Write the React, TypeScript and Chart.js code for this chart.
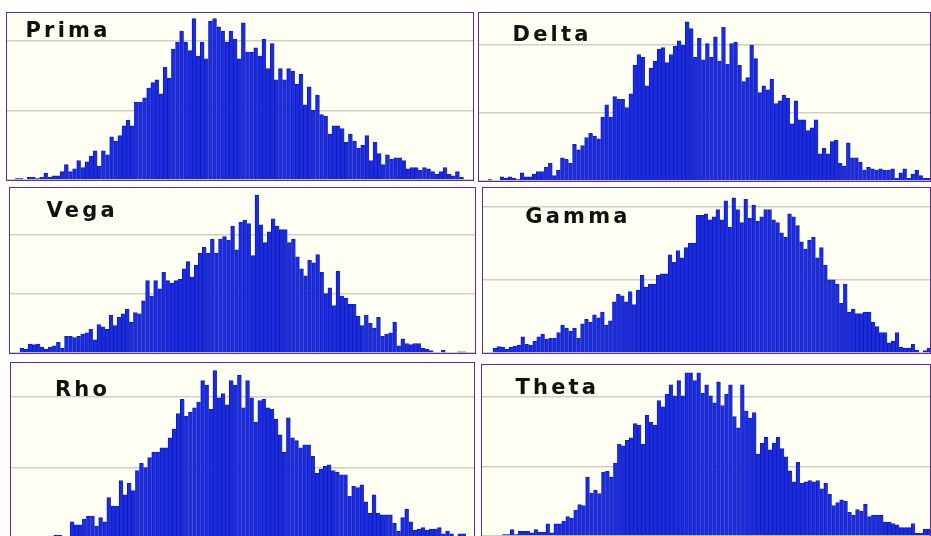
import React, { useEffect, useRef } from "react";
import { Chart, registerables } from "chart.js";

Chart.register(...registerables);

// ---- data (bin counts, left to right) ----
const panelTitles = ["Prima", "Delta", "Vega", "Gamma", "Rho", "Theta"];

const primaCounts = [1, 1, 0.5, 2, 2, 1, 2, 5, 2, 3, 3, 6, 11, 6, 8, 14, 9, 13, 17, 21, 10, 21, 18, 31, 28, 32, 39, 43, 39, 56, 56, 59, 66, 70, 72, 62, 81, 73, 94, 99, 107, 99, 93, 116, 89, 99, 87, 114, 116, 110, 107, 99, 107, 101, 87, 113, 92, 92, 95, 89, 101, 80, 98, 72, 80, 72, 80, 78, 69, 76, 54, 67, 50, 61, 47, 46, 33, 39, 39, 37, 27, 33, 28, 23, 25, 32, 14, 27, 19, 11, 18, 15, 16, 16, 14, 8, 9, 9, 7, 9, 8, 6, 4, 6, 9, 4, 3, 6, 2];

const deltaCounts = [1, 0.5, 0.5, 3, 2, 3, 2, 1, 6, 3, 3, 5, 7, 7, 10, 13, 4, 8, 17, 16, 13, 27, 23, 26, 32, 35, 33, 31, 47, 56, 47, 62, 60, 60, 54, 64, 85, 93, 91, 70, 83, 88, 97, 98, 87, 93, 99, 103, 100, 117, 112, 91, 105, 89, 101, 91, 106, 88, 113, 86, 101, 102, 85, 73, 76, 100, 90, 65, 70, 67, 75, 57, 59, 63, 61, 42, 59, 45, 45, 37, 39, 45, 20, 24, 20, 29, 30, 13, 11, 28, 17, 17, 14, 8, 10, 9, 8, 9, 8, 8, 9, 2, 6, 9, 2, 5, 8, 4, 2, 2];

const vegaCounts = [4, 3.4, 7.6, 7, 7.6, 5, 3.4, 5, 6, 9, 4, 14, 14, 13, 14, 16, 17, 20, 11, 24, 22, 20, 32, 23, 30, 33, 37, 26, 34, 33, 44, 61, 48, 61, 54, 68, 61, 59, 61, 62, 71, 77, 64, 74, 84, 89, 84, 96, 84, 96, 98, 95, 107, 87, 110, 112, 109, 82, 133, 108, 93, 102, 113, 107, 104, 104, 93, 96, 81, 71, 65, 78, 76, 83, 68, 50, 55, 40, 69, 48, 46, 41, 41, 31, 23, 32, 25, 21, 30, 14, 16, 17, 26, 6, 12, 8, 7, 8, 8, 4, 3.4, 2, 0.6, 0.6, 2.5, 0, 0, 0.6, 1, 1];

const gammaCounts = [3.4, 4.3, 3.8, 2.7, 3.8, 4.5, 5.4, 11, 6, 5.4, 7.9, 11, 13, 9.5, 10, 10, 14, 19, 17, 15, 17, 10, 20, 23, 21, 26, 24, 28, 19, 22, 35, 40, 39, 35, 42, 33, 43, 53, 45, 47, 47, 53, 54, 54, 67, 62, 70, 65, 72, 75, 75, 94, 94, 95, 91, 93, 98, 91, 104, 86, 106, 98, 89, 105, 92, 101, 90, 93, 98, 98, 91, 89, 82, 79, 95, 93, 87, 76, 71, 77, 79, 65, 72, 60, 50, 50, 47, 34, 47, 28, 30, 27, 27, 28, 28, 21, 18, 14, 14, 7, 8, 14, 4, 3.4, 3.4, 6, 2, 0.5, 1.6, 3.4];

const rhoCounts = [0, 0, 1, 0, 1, 1, 0, 1, 1, 2, 2.8, 2.8, 1.4, 1.4, 12, 10, 10, 14, 16, 16, 9, 15, 12, 29, 23, 23, 41, 31, 39, 34, 48, 53, 50, 57, 61, 61, 64, 64, 71, 77, 88, 98, 86, 89, 92, 96, 111, 108, 91, 118, 99, 102, 94, 111, 108, 115, 92, 111, 99, 82, 97, 98, 92, 91, 84, 73, 61, 85, 71, 69, 64, 66, 66, 58, 46, 49, 51, 52, 48, 47, 45, 45, 30, 37, 36, 38, 26, 18, 31, 18, 17, 17, 17, 11, 5.6, 15, 21, 12, 6, 7, 8, 6, 7, 7, 8, 3.7, 5.6, 3.7, 1.9, 3.7, 3.7];

const thetaCounts = [1, 1, 4.6, 1, 3.4, 3.4, 3.4, 2.2, 4.6, 2.9, 2.9, 8.7, 2.2, 8.7, 8.7, 10.6, 14, 13, 18.5, 22.6, 22, 42.5, 31, 33, 30.5, 46, 46.6, 42.5, 52.6, 66, 65, 69, 70.7, 81, 80, 66, 87, 82, 80, 97.6, 93, 102, 109, 101, 112, 101, 117.6, 117.6, 112, 117.6, 103, 109, 101, 96, 111, 94, 102, 109, 86, 78, 109, 90, 85, 89, 59, 67, 71, 62, 67, 71, 63, 57, 47, 39, 53, 38, 39, 40, 39, 40, 34, 38, 30, 22, 24, 26, 25, 17, 15, 19, 18, 23, 14, 15, 15, 15, 10, 10, 9, 8, 6, 6, 6, 9, 2, 2, 5, 5];

const gridStep = 50;

// ---- styles ----
const BAR_FILL = "#1b2be3";
const BAR_EDGE = "#12209e";
const GRID = "#cfcfc4";
const BORDER = "#5e2a9e";
const PANEL_BG = "#fefef2";

type PanelLayout = {
  left: number; top: number; w: number; h: number;
  yMax: number; barStart: number; barEnd: number;
  titleX: number; titleY: number;
};

const layouts: PanelLayout[] = [
  { left: 6, top: 12, w: 466, h: 167, yMax: 120, barStart: 8, barEnd: 456.7, titleX: 18.5, titleY: 6.5 },
  { left: 478, top: 12, w: 451, h: 168, yMax: 123.5, barStart: 9, barEnd: 452, titleX: 33.5, titleY: 10.8 },
  { left: 9, top: 187, w: 465, h: 165, yMax: 139, barStart: 10, barEnd: 455.7, titleX: 36.5, titleY: 11.5 },
  { left: 482, top: 187, w: 447, h: 165, yMax: 112.7, barStart: 10, barEnd: 448, titleX: 42.3, titleY: 18.2 },
  { left: 10, top: 362, w: 463, h: 176, yMax: 123.4, barStart: 2, barEnd: 455, titleX: 44, titleY: 15.8 },
  { left: 481, top: 364, w: 448, h: 171, yMax: 123.2, barStart: 20.3, barEnd: 449, titleX: 33.5, titleY: 12.2 },
];

const seriesList = [primaCounts, deltaCounts, vegaCounts, gammaCounts, rhoCounts, thetaCounts];

function HistPanel({ title, counts, layout }: { title: string; counts: number[]; layout: PanelLayout }) {
  const ref = useRef<HTMLCanvasElement | null>(null);
  useEffect(() => {
    if (!ref.current) return;
    const n = counts.length;
    const unit = (layout.barEnd - layout.barStart) / n;
    const xMin = -0.5 - layout.barStart / unit;
    const xMax = n - 0.5 + (layout.w - layout.barEnd) / unit;
    const chart = new Chart(ref.current, {
      type: "bar",
      data: {
        datasets: [
          {
            data: counts.map((v, i) => ({ x: i, y: v })),
            backgroundColor: BAR_FILL,
            borderColor: BAR_EDGE,
            borderWidth: { top: 1, left: 1, right: 0, bottom: 0 },
            borderSkipped: "start",
            barPercentage: 1,
            categoryPercentage: 1,
          } as any,
        ],
      },
      options: {
        responsive: false,
        maintainAspectRatio: false,
        animation: false,
        events: [],
        layout: { padding: 0 },
        plugins: { legend: { display: false }, tooltip: { enabled: false }, title: { display: false } },
        scales: {
          x: {
            type: "linear",
            display: false,
            min: xMin,
            max: xMax,
            offset: false,
            ticks: { includeBounds: false },
            grid: { display: false },
          },
          y: {
            min: 0,
            max: layout.yMax,
            ticks: { display: false, stepSize: gridStep, includeBounds: false },
            grid: { color: GRID, lineWidth: 1.5, drawTicks: false },
            border: { display: false },
          },
        },
      } as any,
    });
    return () => chart.destroy();
  }, [counts, layout]);

  return (
    <div
      style={{
        position: "absolute",
        left: layout.left,
        top: layout.top,
        width: layout.w,
        height: layout.h,
        border: `1px solid ${BORDER}`,
        background: PANEL_BG,
        overflow: "hidden",
      }}
    >
      <canvas ref={ref} width={layout.w} height={layout.h} style={{ display: "block" }} />
      <div
        style={{
          position: "absolute",
          left: layout.titleX,
          top: layout.titleY,
          font: "bold 21px 'DejaVu Sans', sans-serif",
          lineHeight: "21px",
          letterSpacing: "3.2px",
          color: "#111",
          whiteSpace: "nowrap",
        }}
      >
        {title}
      </div>
    </div>
  );
}

export default function App() {
  return (
    <div
      style={{
        position: "fixed",
        left: 0,
        top: 0,
        width: 931,
        height: 536,
        background: "#ffffff",
        overflow: "hidden",
      }}
    >
      {layouts.map((layout, i) => (
        <HistPanel key={panelTitles[i]} title={panelTitles[i]} counts={seriesList[i]} layout={layout} />
      ))}
    </div>
  );
}
